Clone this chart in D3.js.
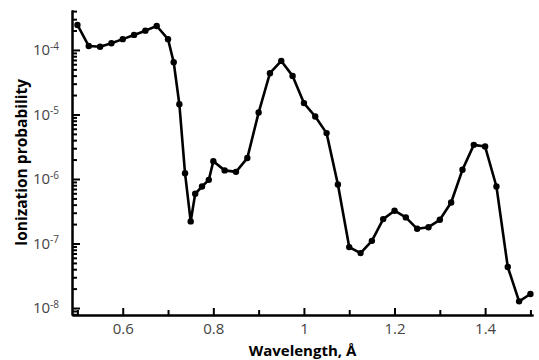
<!DOCTYPE html>
<html>
<head>
<meta charset="utf-8">
<script src="https://cdn.jsdelivr.net/npm/d3@7"></script>
<style>
  body { margin: 0; background: #fff; }
  svg { display: block; }
</style>
</head>
<body>
<div id="chart"></div>
<script>
// wavelength (Angstrom) and ionization probability
var wavelength = [0.5, 0.525, 0.55, 0.575, 0.6, 0.625, 0.65, 0.675, 0.7, 0.7125,
    0.725, 0.7375, 0.75, 0.76, 0.775, 0.79, 0.8, 0.825, 0.85, 0.875,
    0.9, 0.925, 0.95, 0.975, 1.0, 1.025, 1.05, 1.075, 1.1, 1.125,
    1.15, 1.175, 1.2, 1.225, 1.25, 1.275, 1.3, 1.325, 1.35, 1.375,
    1.4, 1.425, 1.45, 1.475, 1.5];
var probability = [2.44e-4, 1.15e-4, 1.12e-4, 1.27e-4, 1.47e-4, 1.71e-4, 1.99e-4, 2.35e-4, 1.47e-4, 6.45e-5,
    1.44e-5, 1.23e-6, 2.2e-7, 5.9e-7, 7.65e-7, 9.7e-7, 1.88e-6, 1.36e-6, 1.29e-6, 2.11e-6,
    1.07e-5, 4.36e-5, 6.76e-5, 3.96e-5, 1.5e-5, 9.3e-6, 5.14e-6, 8.2e-7, 8.8e-8, 7.1e-8,
    1.1e-7, 2.39e-7, 3.22e-7, 2.54e-7, 1.69e-7, 1.79e-7, 2.33e-7, 4.32e-7, 1.39e-6, 3.38e-6,
    3.18e-6, 7.65e-7, 4.33e-8, 1.27e-8, 1.65e-8];

var xMajor = [0.6, 0.8, 1.0, 1.2, 1.4];
var xMinor = [0.5, 0.7, 0.9, 1.1, 1.3, 1.5];
var yMajor = [1e-8, 1e-7, 1e-6, 1e-5, 1e-4];

var data = wavelength.map(function (w, i) { return { w: w, p: probability[i] }; });

// set the dimensions and margins of the graph
var W = 539, H = 360;
var margin = { top: 10, right: 6, bottom: 45, left: 72 };

var svg = d3.select("#chart")
    .append("svg")
    .attr("width", W)
    .attr("height", H);

var x = d3.scaleLinear()
    .domain([0.488, 1.5057])
    .range([margin.left, W - margin.right]);

var y = d3.scaleLog()
    .domain([7.8e-9, 4.16e-4])
    .range([H - margin.bottom, margin.top]);

// minor ticks 2..9 of each decade
var yMinor = [];
for (var e = -9; e <= -4; e++) {
    for (var m = 2; m <= 9; m++) {
        var v = m * Math.pow(10, e);
        if (v >= y.domain()[0] && v <= y.domain()[1]) yMinor.push(v);
    }
}

function styleAxis(g) {
    g.select(".domain").attr("stroke", "#000").attr("stroke-width", 2);
    g.selectAll(".tick line").attr("stroke", "#000").attr("stroke-width", 2);
}

// x axis
svg.append("g")
    .attr("transform", "translate(0," + (H - margin.bottom) + ")")
    .call(d3.axisBottom(x).tickValues(xMinor).tickSizeInner(-5).tickSizeOuter(0).tickFormat(""))
    .call(styleAxis);

svg.append("g")
    .attr("transform", "translate(0," + (H - margin.bottom) + ")")
    .call(d3.axisBottom(x).tickValues(xMajor).tickSizeInner(-7).tickSizeOuter(0).tickPadding(8)
        .tickFormat(function (d) { return d === 1 ? "1" : d3.format(".1f")(d); }))
    .call(styleAxis)
    .call(function (g) {
        g.selectAll(".tick text")
            .attr("fill", "#444")
            .attr("font-family", "Open Sans")
            .attr("font-size", "15px");
    });

// y axis
svg.append("g")
    .attr("transform", "translate(" + margin.left + ",0)")
    .call(d3.axisLeft(y).tickValues(yMinor).tickSizeInner(-5).tickSizeOuter(0).tickFormat(""))
    .call(styleAxis);

svg.append("g")
    .attr("transform", "translate(" + margin.left + ",0)")
    .call(d3.axisLeft(y).tickValues(yMajor).tickSizeInner(-8).tickSizeOuter(0).tickPadding(13).tickFormat(""))
    .call(styleAxis)
    .call(function (g) {
        g.selectAll(".tick text")
            .attr("fill", "#444")
            .attr("font-family", "Open Sans")
            .attr("font-size", "15px")
            .each(function (d) {
                var t = d3.select(this);
                t.append("tspan").text("10");
                t.append("tspan")
                    .attr("dy", "-0.55em")
                    .attr("font-size", "10px")
                    .text("-" + Math.round(-Math.log10(d)));
            });
    });

// line + markers
var line = d3.line()
    .x(function (d) { return x(d.w); })
    .y(function (d) { return y(d.p); });

svg.append("path")
    .datum(data)
    .attr("fill", "none")
    .attr("stroke", "#000")
    .attr("stroke-width", 2.6)
    .attr("stroke-linejoin", "round")
    .attr("d", line);

svg.append("g")
    .selectAll("circle")
    .data(data)
    .enter().append("circle")
    .attr("cx", function (d) { return x(d.w); })
    .attr("cy", function (d) { return y(d.p); })
    .attr("r", 3.2)
    .attr("fill", "#000");

// axis titles
svg.append("text")
    .attr("x", (margin.left + W - margin.right) / 2)
    .attr("y", 355.5)
    .attr("text-anchor", "middle")
    .attr("font-family", "Open Sans")
    .attr("font-weight", "bold")
    .attr("font-size", "15px")
    .attr("fill", "#000")
    .text("Wavelength, Å");

svg.append("text")
    .attr("transform", "translate(27," + ((margin.top + H - margin.bottom) / 2) + ") rotate(-90)")
    .attr("text-anchor", "middle")
    .attr("font-family", "Open Sans")
    .attr("font-weight", "bold")
    .attr("font-size", "15.5px")
    .attr("fill", "#000")
    .text("Ionization probability");
</script>
</body>
</html>
